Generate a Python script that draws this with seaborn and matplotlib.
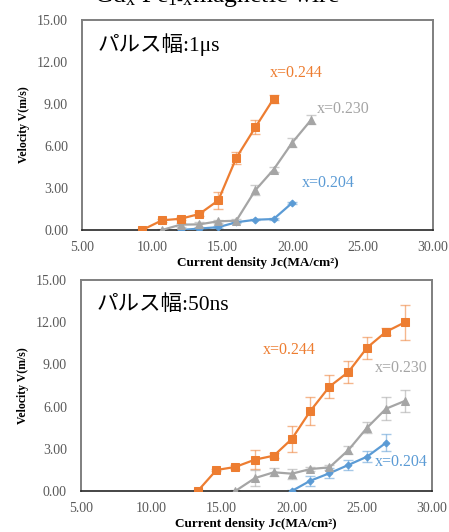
import numpy as np
import pandas as pd
import matplotlib
matplotlib.use("Agg")
import matplotlib.pyplot as plt
import seaborn as sns

sns.set_theme(style="white")
plt.rcParams['font.family'] = ['Liberation Serif', 'Noto Sans CJK JP', 'DejaVu Sans']
plt.rcParams['mathtext.fontset'] = 'custom'
plt.rcParams['mathtext.rm'] = 'Liberation Serif'
plt.rcParams['mathtext.it'] = 'Liberation Serif:italic'

# ---------------- data: pulse width 1 us ----------------
top_j_244 = [9.29, 10.70, 12.03, 13.36, 14.71, 15.99, 17.35, 18.65]
top_v_244 = [0.00, 0.69, 0.80, 1.14, 2.11, 5.14, 7.32, 9.36]
top_e_244 = [0.05, 0.10, 0.10, 0.15, 0.60, 0.45, 0.50, 0.28]

top_j_230 = [10.70, 12.03, 13.36, 14.71, 15.99, 17.35, 18.65, 19.98, 21.34]
top_v_230 = [0.00, 0.38, 0.40, 0.62, 0.66, 2.84, 4.31, 6.23, 7.87]
top_e_230 = [0.05, 0.15, 0.20, 0.10, 0.10, 0.35, 0.15, 0.35, 0.30]

top_j_204 = [12.03, 13.36, 14.71, 15.99, 17.35, 18.65, 19.98]
top_v_204 = [0.00, 0.10, 0.20, 0.55, 0.73, 0.78, 1.94]
top_e_204 = [0.02, 0.05, 0.05, 0.08, 0.05, 0.05, 0.08]

# ---------------- data: pulse width 50 ns ----------------
bot_j_244 = [13.33, 14.66, 16.01, 17.41, 18.75, 20.03, 21.35, 22.71, 24.06, 25.39, 26.74, 28.08]
bot_v_244 = [0.00, 1.49, 1.71, 2.23, 2.51, 3.70, 5.69, 7.42, 8.46, 10.19, 11.32, 11.99]
bot_e_244 = [0.05, 0.10, 0.15, 0.65, 0.20, 0.90, 1.00, 0.80, 0.80, 0.78, 0.25, 1.26]

bot_j_230 = [16.01, 17.41, 18.75, 20.03, 21.35, 22.71, 24.06, 25.39, 26.74, 28.08]
bot_v_230 = [0.00, 0.92, 1.33, 1.23, 1.56, 1.68, 2.91, 4.50, 5.85, 6.40]
bot_e_230 = [0.05, 0.55, 0.30, 0.35, 0.15, 0.20, 0.30, 0.40, 0.82, 0.80]

bot_j_204 = [20.03, 21.35, 22.71, 24.06, 25.39, 26.74]
bot_v_204 = [0.00, 0.73, 1.26, 1.85, 2.44, 3.43]
bot_e_204 = [0.05, 0.35, 0.35, 0.35, 0.40, 0.60]

series_names = ["x=0.244", "x=0.230", "x=0.204"]
x_ticks = [5, 10, 15, 20, 25, 30]
y_ticks = [0, 3, 6, 9, 12, 15]
x_label = "Current density Jc(MA/cm²)"
y_label = "Velocity V(m/s)"
title = "Gd$_\\mathrm{x}$ Fe$_\\mathrm{1\\text{-}x}$magnetic wire"
panel_titles = ["パルス幅:1μs", "パルス幅:50ns"]

colors = {"x=0.244": "#ED7D31", "x=0.230": "#A5A5A5", "x=0.204": "#5B9BD5"}
markers = {"x=0.244": "s", "x=0.230": "^", "x=0.204": "D"}
msizes = {"x=0.244": 5.5, "x=0.230": 6, "x=0.204": 3.5}


def make_df(js, vs, es):
    rows = []
    for name, j, v, e in zip(series_names, js, vs, es):
        for a, b, c in zip(j, v, e):
            rows.append({"J": a, "V": b, "err": c, "series": name})
    return pd.DataFrame(rows)


df_top = make_df([top_j_244, top_j_230, top_j_204],
                 [top_v_244, top_v_230, top_v_204],
                 [top_e_244, top_e_230, top_e_204])
df_bot = make_df([bot_j_244, bot_j_230, bot_j_204],
                 [bot_v_244, bot_v_230, bot_v_204],
                 [bot_e_244, bot_e_230, bot_e_204])

fig = plt.figure(figsize=(4.49, 5.32), dpi=100)
ax1 = fig.add_axes([0.1826, 0.5677, 0.7817, 0.3956])
ax2 = fig.add_axes([0.1800, 0.0771, 0.7817, 0.3966])

label_pos_top = {"x=0.244": (18.39, 11.18), "x=0.230": (21.74, 8.65), "x=0.204": (20.65, 3.32)}
label_pos_bot = {"x=0.244": (17.96, 10.02), "x=0.230": (25.96, 8.72), "x=0.204": (25.96, 2.08)}

for ax, df, lpos, ptitle in [(ax1, df_top, label_pos_top, panel_titles[0]),
                             (ax2, df_bot, label_pos_bot, panel_titles[1])]:
    for name in series_names[::-1]:
        sub = df[df.series == name]
        ax.errorbar(sub.J, sub.V, yerr=sub.err, fmt="none", ecolor=colors[name],
                    alpha=0.55, elinewidth=1.0, capsize=3.5, capthick=1.0, zorder=2)
    for name in series_names[::-1]:
        sub = df[df.series == name]
        sns.lineplot(data=sub, x="J", y="V", ax=ax, color=colors[name],
                     marker=markers[name], markersize=msizes[name],
                     markeredgecolor=colors[name], linewidth=1.6,
                     estimator=None, sort=False, legend=False, zorder=3)
        ax.text(lpos[name][0], lpos[name][1], name, color=colors[name],
                fontsize=11.5, ha="left", va="center", family=["Liberation Serif"])
    ax.set_xlim(5, 30)
    ax.set_ylim(0, 15)
    ax.set_xticks(x_ticks)
    ax.set_yticks(y_ticks)
    ax.set_xticklabels([f"{t:.2f}" for t in x_ticks])
    ax.set_yticklabels([f"{t:.2f}" for t in y_ticks])
    ax.tick_params(axis="x", direction="in", length=3, width=0.8, color="#404040",
                   labelsize=10, labelcolor="#595959", pad=8, top=False)
    ax.tick_params(axis="y", length=0, labelsize=10, labelcolor="#595959", pad=10)
    for s in ["top", "right", "left"]:
        ax.spines[s].set_visible(True)
        ax.spines[s].set_color("#7f7f7f")
        ax.spines[s].set_linewidth(1.4)
    ax.spines["bottom"].set_color("#262626")
    ax.spines["bottom"].set_linewidth(1.2)
    ax.set_xlabel(x_label, fontsize=9.5, fontweight="bold", color="black", labelpad=2)
    ax.set_ylabel(y_label, fontsize=8.5, fontweight="bold", color="black", labelpad=5)
    ax.text(0.045, 0.88, ptitle, transform=ax.transAxes, fontsize=15.5,
            ha="left", va="center", color="black",
            family=["Liberation Serif", "Noto Sans CJK JP"])
    ax.grid(False)
    ax.set_facecolor("white")

fig.text(0.484, 0.9965, title, fontsize=18.5, ha="center", va="baseline", color="black")

fig.savefig("out.png", dpi=100)
